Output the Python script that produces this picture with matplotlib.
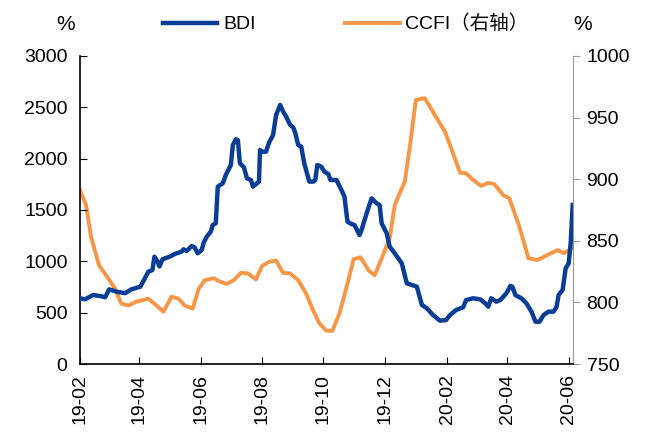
import matplotlib.pyplot as plt
import matplotlib.dates as mdates
import pandas as pd

plt.rcParams['font.family'] = ['Liberation Sans', 'Noto Sans CJK SC']

bdi_dates = [
    "2019-02-01", "2019-02-06", "2019-02-14", "2019-02-22", "2019-02-26", "2019-03-02",
    "2019-03-09", "2019-03-18", "2019-03-24", "2019-04-02", "2019-04-05", "2019-04-10",
    "2019-04-14", "2019-04-16", "2019-04-19", "2019-04-21", "2019-04-24", "2019-05-01",
    "2019-05-06", "2019-05-13", "2019-05-15", "2019-05-18", "2019-05-23", "2019-05-26",
    "2019-05-29", "2019-06-02", "2019-06-04", "2019-06-07", "2019-06-11", "2019-06-13",
    "2019-06-16", "2019-06-18", "2019-06-23", "2019-06-26", "2019-07-01", "2019-07-03",
    "2019-07-06", "2019-07-08", "2019-07-10", "2019-07-14", "2019-07-17", "2019-07-21",
    "2019-07-23", "2019-07-27", "2019-07-29", "2019-07-30", "2019-08-01", "2019-08-05",
    "2019-08-08", "2019-08-12", "2019-08-15", "2019-08-19", "2019-08-22", "2019-08-25",
    "2019-08-29", "2019-09-01", "2019-09-03", "2019-09-06", "2019-09-09", "2019-09-12",
    "2019-09-17", "2019-09-21", "2019-09-23", "2019-09-25", "2019-09-29", "2019-10-02",
    "2019-10-06", "2019-10-08", "2019-10-14", "2019-10-19", "2019-10-22", "2019-10-25",
    "2019-10-29", "2019-11-01", "2019-11-06", "2019-11-08", "2019-11-13", "2019-11-18",
    "2019-11-23", "2019-11-26", "2019-11-28", "2019-12-03", "2019-12-06", "2019-12-11",
    "2019-12-18", "2019-12-23", "2019-12-28", "2020-01-02", "2020-01-07", "2020-01-12",
    "2020-01-18", "2020-01-25", "2020-01-31", "2020-02-04", "2020-02-10", "2020-02-17",
    "2020-02-20", "2020-02-27", "2020-03-05", "2020-03-10", "2020-03-13", "2020-03-16",
    "2020-03-21", "2020-03-25", "2020-03-31", "2020-04-04", "2020-04-06", "2020-04-09",
    "2020-04-15", "2020-04-20", "2020-04-25", "2020-04-29", "2020-05-03", "2020-05-07",
    "2020-05-12", "2020-05-17", "2020-05-20", "2020-05-22", "2020-05-26", "2020-05-29",
    "2020-06-01", "2020-06-03", "2020-06-05",
]
bdi = [
    640, 630, 672, 660, 650, 727,
    705, 690, 727, 753, 808, 899,
    915, 1045, 1000, 950, 1020, 1045,
    1071, 1094, 1117, 1100, 1149, 1136,
    1078, 1110, 1182, 1240, 1289, 1354,
    1370, 1727, 1760, 1841, 1938, 2133,
    2188, 2180, 1955, 1916, 1808, 1792,
    1727, 1760, 1776, 2084, 2068, 2068,
    2156, 2230, 2425, 2523, 2458, 2409,
    2328, 2305, 2253, 2133, 2117, 1955,
    1776, 1776, 1792, 1938, 1922, 1873,
    1850, 1792, 1792, 1695, 1630, 1386,
    1363, 1354, 1256, 1305, 1467, 1613,
    1565, 1548, 1370, 1273, 1143, 1078,
    981, 786, 770, 753, 575, 543,
    477, 422, 428, 477, 526, 552,
    623, 640, 630, 591, 558, 640,
    607, 623, 688, 760, 753, 672,
    640, 591, 510, 412, 412, 477,
    510, 510, 558, 672, 721, 932,
    981, 1175, 1549,
]

ccfi_dates = [
    "2019-02-01", "2019-02-07", "2019-02-12", "2019-02-20", "2019-02-27", "2019-03-08",
    "2019-03-14", "2019-03-21", "2019-03-29", "2019-04-10", "2019-04-18", "2019-04-25",
    "2019-05-03", "2019-05-10", "2019-05-16", "2019-05-24", "2019-05-30", "2019-06-05",
    "2019-06-14", "2019-06-20", "2019-06-27", "2019-07-04", "2019-07-11", "2019-07-18",
    "2019-07-26", "2019-08-01", "2019-08-08", "2019-08-15", "2019-08-22", "2019-08-29",
    "2019-09-06", "2019-09-14", "2019-09-20", "2019-09-27", "2019-10-04", "2019-10-10",
    "2019-10-17", "2019-10-24", "2019-10-31", "2019-11-07", "2019-11-15", "2019-11-21",
    "2019-11-28", "2019-12-06", "2019-12-11", "2019-12-16", "2019-12-21", "2019-12-26",
    "2020-01-01", "2020-01-10", "2020-01-20", "2020-01-30", "2020-02-07", "2020-02-14",
    "2020-02-20", "2020-02-27", "2020-03-06", "2020-03-13", "2020-03-19", "2020-03-28",
    "2020-04-03", "2020-04-13", "2020-04-22", "2020-05-01", "2020-05-11", "2020-05-21",
    "2020-05-27", "2020-06-05",
]
ccfi = [
    891, 879, 853, 830, 822, 811,
    799, 797.5, 800.6, 803, 797.5, 792.5,
    804.6, 803, 797.5, 795, 811, 818,
    819.6, 816.9, 815, 818, 824, 823.5,
    818.7, 829.5, 833, 833.9, 824, 823.5,
    818, 807, 795, 783, 777, 777,
    791, 812, 835, 836.6, 826, 822,
    835.8, 852, 879, 888.6, 898, 926,
    964.3, 965.7, 952, 938.5, 921, 905.3,
    904.8, 899.4, 894.5, 897, 896, 887,
    884.5, 861.4, 835.8, 834.4, 838.5, 842.5,
    839.9, 844,
]

x_ticks = ["2019-02-01", "2019-04-01", "2019-06-01", "2019-08-01", "2019-10-01",
           "2019-12-01", "2020-02-01", "2020-04-01", "2020-06-01"]

blue = "#0A3E96"
orange = "#F79646"

fig = plt.figure(figsize=(6.56, 4.37), dpi=100)
ax = fig.add_axes([0.122, 0.167, 0.751, 0.705])
ax2 = ax.twinx()

l1, = ax.plot(pd.to_datetime(bdi_dates), bdi, color=blue, lw=3.2, label="BDI", zorder=3)
l2, = ax2.plot(pd.to_datetime(ccfi_dates), ccfi, color=orange, lw=2.8, label="CCFI（右轴）")
ax.set_zorder(ax2.get_zorder() + 1)
ax.patch.set_visible(False)

ax.set_xlim(pd.Timestamp("2019-02-01"), pd.Timestamp("2020-06-05"))
ax.set_ylim(0, 3000)
ax.set_yticks(range(0, 3001, 500))
ax2.set_ylim(750, 1000)
ax2.set_yticks(range(750, 1001, 50))

ax.set_xticks(pd.to_datetime(x_ticks))
ax.xaxis.set_major_formatter(mdates.DateFormatter("%y-%m"))
for lab in ax.get_xticklabels():
    lab.set_rotation(90)

ax.tick_params(axis="y", direction="in", length=5, labelsize=14, pad=9)
ax.tick_params(axis="x", direction="in", length=5, labelsize=14, pad=7)
ax2.tick_params(axis="y", direction="out", length=5, labelsize=14, color="#999999", pad=5)

ax.spines["top"].set_visible(False)
ax2.spines["top"].set_visible(False)
ax.spines["right"].set_visible(False)
ax2.spines["left"].set_visible(False)
ax2.spines["bottom"].set_visible(False)
ax2.spines["right"].set_color("#999999")
ax.spines["left"].set_linewidth(1.2)
ax.spines["bottom"].set_linewidth(1.2)

fig.text(0.1, 0.945, "%", fontsize=15, ha="center", va="center")
fig.text(0.888, 0.945, "%", fontsize=15, ha="center", va="center")

fig.legend(handles=[l1, l2], loc="center", bbox_to_anchor=(0.527, 0.945), ncol=2,
           frameon=False, fontsize=14, handlelength=2.8, columnspacing=4.6,
           handletextpad=0.3)

fig.savefig("out.png", dpi=100)
